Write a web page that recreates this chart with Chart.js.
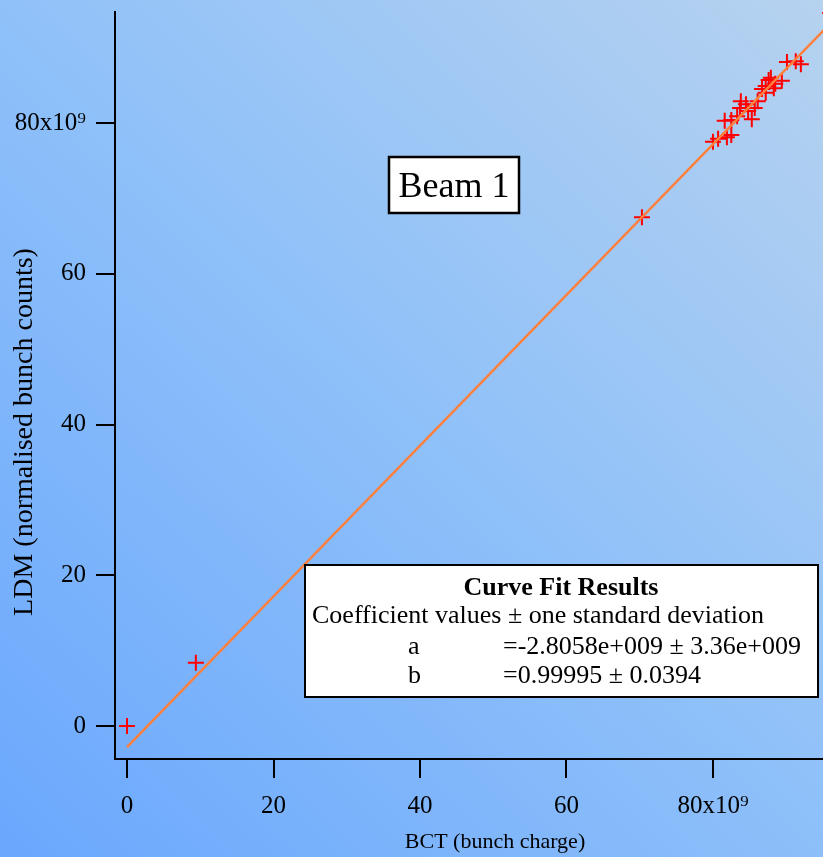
<!DOCTYPE html>
<html>
<head>
<meta charset="utf-8">
<script src="https://cdn.jsdelivr.net/npm/chart.js@4/dist/chart.umd.min.js"></script>
<style>
  html, body { margin: 0; padding: 0; background: #8ec0f9; }
  #wrap { width: 823px; height: 857px; }
</style>
</head>
<body>
<div id="wrap"><canvas id="c" width="823" height="857"></canvas></div>
<script>
// Bunch charge (BCT) and normalised LDM bunch counts, in units of 1e9
const bctValues = [0, 9.4, 70.3,
  80.0, 80.7, 81.9, 82.5, 81.6, 82.5, 83.3, 83.7, 83.8, 84.5, 84.8, 85.3,
  85.7, 86.1, 86.7, 87.2, 87.2, 87.6, 87.9, 88.5, 89.4, 88.3, 90.1, 91.3, 92.0, 96.0];
const ldmValues = [0, 8.4, 67.5,
  77.5, 77.9, 78.1, 78.4, 80.3, 80.4, 80.9, 82.0, 82.9, 82.5, 81.6, 80.5,
  82.0, 82.9, 84.5, 84.9, 84.0, 85.7, 86.0, 85.2, 85.6, 84.6, 88.1, 88.2, 87.8, 94.6];

// Linear fit y = a + b*x (a in units of 1e9)
const fitA = -2.8058;
const fitB = 0.99995;
const fitRange = [0, 97];

const xTickValues = [0, 20, 40, 60, 80];
const yTickValues = [0, 20, 40, 60, 80];
const tickLabels = ['0', '20', '40', '60', '80x10\u2079'];

const xTitle = 'BCT (bunch charge)';
const yTitle = 'LDM (normalised bunch counts)';
const panelTitle = 'Beam 1';
const fitHeader = 'Curve Fit Results';
const fitSubHeader = 'Coefficient values \u00b1 one standard deviation';
const fitNames = ['a', 'b'];
const fitTexts = ['=-2.8058e+009 \u00b1 3.36e+009', '=0.99995 \u00b1 0.0394'];

const SERIF = '"Liberation Serif", "Times New Roman", "DejaVu Serif", serif';

const scatterPoints = bctValues.map((x, i) => ({ x: x, y: ldmValues[i] }));
const fitPoints = fitRange.map(x => ({ x: x, y: fitA + fitB * x }));

const backgroundPlugin = {
  id: 'bg',
  beforeDraw(chart) {
    const ctx = chart.ctx;
    const w = chart.width, h = chart.height;
    const g = ctx.createLinearGradient(w, 0, 0, h);
    g.addColorStop(0, '#b6d2ef');
    g.addColorStop(0.5, '#8ec0f9');
    g.addColorStop(1, '#6aa7fd');
    ctx.save();
    ctx.fillStyle = g;
    ctx.fillRect(0, 0, w, h);
    ctx.restore();
  }
};

const annotationPlugin = {
  id: 'notes',
  afterDraw(chart) {
    const ctx = chart.ctx;
    ctx.save();
    ctx.fillStyle = '#000';

    // axis titles
    ctx.textAlign = 'center';
    ctx.textBaseline = 'alphabetic';
    ctx.font = '22px ' + SERIF;
    ctx.fillText(xTitle, 495, 848);
    ctx.save();
    ctx.font = '28px ' + SERIF;
    ctx.translate(32, 432);
    ctx.rotate(-Math.PI / 2);
    ctx.fillText(yTitle, 0, 0);
    ctx.restore();

    // panel label
    ctx.fillStyle = '#fff';
    ctx.fillRect(389, 157, 130, 56);
    ctx.strokeStyle = '#000';
    ctx.lineWidth = 2.5;
    ctx.strokeRect(389, 157, 130, 56);
    ctx.fillStyle = '#000';
    ctx.font = '36px ' + SERIF;
    ctx.textAlign = 'center';
    ctx.fillText(panelTitle, 454, 197);

    // fit results box
    ctx.fillStyle = '#fff';
    ctx.fillRect(305, 565, 513, 132);
    ctx.lineWidth = 2;
    ctx.strokeRect(305, 565, 513, 132);
    ctx.fillStyle = '#000';
    ctx.font = 'bold 26px ' + SERIF;
    ctx.textAlign = 'center';
    ctx.fillText(fitHeader, 561, 595);
    ctx.font = '26px ' + SERIF;
    ctx.textAlign = 'left';
    ctx.fillText(fitSubHeader, 312, 623);
    ctx.fillText(fitNames[0], 408, 654);
    ctx.fillText(fitTexts[0], 503, 654);
    ctx.fillText(fitNames[1], 408, 683);
    ctx.fillText(fitTexts[1], 503, 683);
    ctx.restore();
  }
};

const axisCommon = {
  type: 'linear',
  grid: { display: true, drawOnChartArea: false, drawTicks: true, tickLength: 19, color: '#000', lineWidth: 2 },
  border: { display: true, color: '#000', width: 2 },
};

function noPadding(s) {
  s.paddingLeft = 0; s.paddingRight = 0; s.paddingTop = 0; s.paddingBottom = 0;
}

new Chart(document.getElementById('c'), {
  type: 'scatter',
  data: {
    datasets: [
      {
        label: 'fit',
        data: fitPoints,
        showLine: true,
        borderColor: '#ff7f3c',
        borderWidth: 2.5,
        pointRadius: 0,
        order: 0
      },
      {
        label: 'data',
        data: scatterPoints,
        pointStyle: 'cross',
        pointRadius: 8,
        borderColor: '#ff0000',
        borderWidth: 2,
        order: 1
      }
    ]
  },
  options: {
    responsive: false,
    animation: false,
    devicePixelRatio: 1,
    events: [],
    layout: { autoPadding: false, padding: { top: 12, left: 0, right: 0, bottom: 0 } },
    plugins: { legend: { display: false }, tooltip: { enabled: false } },
    scales: {
      x: Object.assign({}, axisCommon, {
        min: -1.64, max: 95.02,
        afterBuildTicks: s => { s.ticks = xTickValues.map(v => ({ value: v })); },
        afterFit: s => { s.height = 98; noPadding(s); },
        ticks: {
          color: '#000', padding: 13, maxRotation: 0, autoSkip: false,
          font: { family: SERIF, size: 25 },
          callback: v => tickLabels[xTickValues.indexOf(v)]
        }
      }),
      y: Object.assign({}, axisCommon, {
        min: -4.38, max: 94.73,
        afterBuildTicks: s => { s.ticks = yTickValues.map(v => ({ value: v })); },
        afterFit: s => { s.width = 115; noPadding(s); },
        ticks: {
          color: '#000', padding: 10, autoSkip: false,
          font: { family: SERIF, size: 25 },
          callback: v => tickLabels[yTickValues.indexOf(v)]
        }
      })
    }
  },
  plugins: [backgroundPlugin, annotationPlugin]
});
</script>
</body>
</html>
